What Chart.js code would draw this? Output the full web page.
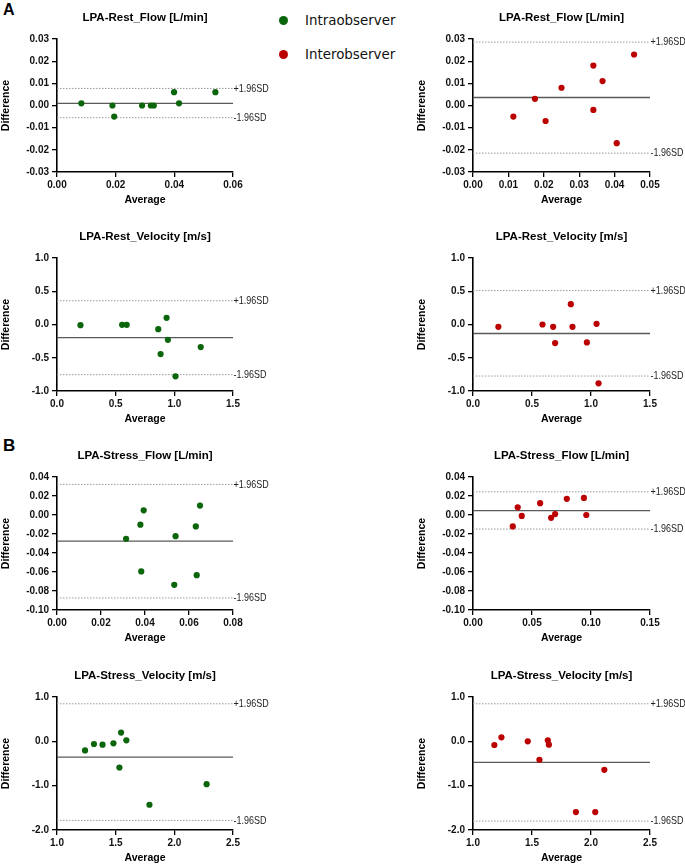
<!DOCTYPE html>
<html>
<head>
<meta charset="utf-8">
<script src="https://cdn.jsdelivr.net/npm/chart.js@4.4.1/dist/chart.umd.min.js"></script>
<style>
  html, body { margin: 0; padding: 0; background: #fff; }
  body { width: 685px; height: 864px; overflow: hidden; position: relative; }
  canvas { position: absolute; }
  .panel-letter { position: absolute; font-family: "Liberation Sans", Arial, sans-serif; font-weight: bold; line-height: 1; color: #000; }
  .leg { position: absolute; font-family: "DejaVu Sans", Verdana, sans-serif; font-size: 13.4px; line-height: 16px; color: #111; }
  .dot { position: absolute; width: 9px; height: 9px; border-radius: 50%; }
</style>
</head>
<body>
<div class="panel-letter" style="left:3px;top:2px;font-size:16px">A</div>
<div class="panel-letter" style="left:3px;top:437px;font-size:17px">B</div>

<div class="dot" style="left:279px;top:16px;background:#0b650b"></div>
<div class="leg" style="left:305px;top:13px">Intraobserver</div>
<div class="dot" style="left:279px;top:50px;background:#bb0000"></div>
<div class="leg" style="left:305px;top:47px">Interobserver</div>

<canvas id="c1" width="340" height="210" style="left:0;top:0"></canvas>
<canvas id="c2" width="345" height="210" style="left:340px;top:0"></canvas>
<canvas id="c3" width="340" height="210" style="left:0;top:219px"></canvas>
<canvas id="c4" width="345" height="210" style="left:340px;top:219px"></canvas>
<canvas id="c5" width="340" height="210" style="left:0;top:438px"></canvas>
<canvas id="c6" width="345" height="210" style="left:340px;top:438px"></canvas>
<canvas id="c7" width="340" height="210" style="left:0;top:658px"></canvas>
<canvas id="c8" width="345" height="210" style="left:340px;top:658px"></canvas>

<script>
// Bland-Altman data: average of the two measurements vs their difference
// limits = [bias, +1.96SD, -1.96SD]

const restFlowIntraAvg  = [0.0083, 0.0189, 0.0195, 0.029, 0.032, 0.033, 0.0399, 0.0416, 0.054];
const restFlowIntraDiff = [0.001, 0.000, -0.005, 0.000, 0.000, 0.000, 0.006, 0.001, 0.006];
const restFlowIntraLimits = [0.001, 0.0077, -0.0055];

const restFlowInterAvg  = [0.0114, 0.0175, 0.0205, 0.025, 0.034, 0.034, 0.0366, 0.0406, 0.0455];
const restFlowInterDiff = [-0.005, 0.003, -0.007, 0.008, 0.018, -0.002, 0.011, -0.017, 0.023];
const restFlowInterLimits = [0.0036, 0.0286, -0.0215];

const restVelIntraAvg  = [0.20, 0.555, 0.594, 0.863, 0.934, 0.945, 0.883, 1.01, 1.225];
const restVelIntraDiff = [-0.01, -0.005, -0.005, -0.07, 0.10, -0.23, -0.445, -0.78, -0.34];
const restVelIntraLimits = [-0.196, 0.357, -0.754];

const restVelInterAvg  = [0.215, 0.589, 0.679, 0.696, 0.829, 0.843, 0.965, 1.047, 1.064];
const restVelInterDiff = [-0.035, 0.0, -0.035, -0.28, 0.305, -0.035, -0.27, 0.01, -0.885];
const restVelInterLimits = [-0.135, 0.51, -0.775];

const stressFlowIntraAvg  = [0.0314, 0.0379, 0.0383, 0.0394, 0.0539, 0.0533, 0.0631, 0.0635, 0.065];
const stressFlowIntraDiff = [-0.0251, -0.0102, -0.0594, 0.0049, -0.0223, -0.0735, -0.012, -0.0633, 0.0099];
const stressFlowIntraLimits = [-0.0276, 0.0322, -0.0873];

const stressFlowInterAvg  = [0.0337, 0.0379, 0.0413, 0.0569, 0.0662, 0.0696, 0.0795, 0.094, 0.096];
const stressFlowInterDiff = [-0.012, 0.0081, -0.001, 0.0124, -0.003, 0.001, 0.017, 0.018, 0.0];
const stressFlowInterLimits = [0.0046, 0.0244, -0.0148];

const stressVelIntraAvg  = [1.239, 1.315, 1.388, 1.481, 1.546, 1.591, 1.532, 1.788, 2.275];
const stressVelIntraDiff = [-0.204, -0.06, -0.076, -0.045, 0.197, 0.023, -0.59, -1.43, -0.967];
const stressVelIntraLimits = [-0.355, 0.847, -1.784];

const stressVelInterAvg  = [1.181, 1.241, 1.464, 1.563, 1.634, 1.643, 1.872, 2.036, 2.113];
const stressVelInterDiff = [-0.083, 0.09, 0.0, -0.416, 0.023, -0.076, -1.595, -1.595, -0.643];
const stressVelInterLimits = [-0.476, 0.847, -1.80];

// axis ranges [min, max, step, decimals]
const flowRestX1 = [0, 0.06, 0.02, 2];
const flowRestX2 = [0, 0.05, 0.01, 2];
const flowRestY  = [-0.03, 0.03, 0.01, 2];
const velRestX   = [0, 1.5, 0.5, 1];
const velRestY   = [-1, 1, 0.5, 1];
const flowStressX1 = [0, 0.08, 0.02, 2];
const flowStressX2 = [0, 0.15, 0.05, 2];
const flowStressY  = [-0.10, 0.04, 0.02, 2];
const velStressX = [1, 2.5, 0.5, 1];
const velStressY = [-2, 1, 1, 1];

const GREEN = "#0b650b";
const RED = "#bb0000";
const SANS = '"Liberation Sans", Arial, sans-serif';

const panels = [
  { id: "c1", title: "LPA-Rest_Flow [L/min]", avg: restFlowIntraAvg, diff: restFlowIntraDiff, lim: restFlowIntraLimits, color: GREEN, x: flowRestX1, y: flowRestY, right: false },
  { id: "c2", title: "LPA-Rest_Flow [L/min]", avg: restFlowInterAvg, diff: restFlowInterDiff, lim: restFlowInterLimits, color: RED, x: flowRestX2, y: flowRestY, right: true },
  { id: "c3", title: "LPA-Rest_Velocity [m/s]", avg: restVelIntraAvg, diff: restVelIntraDiff, lim: restVelIntraLimits, color: GREEN, x: velRestX, y: velRestY, right: false },
  { id: "c4", title: "LPA-Rest_Velocity [m/s]", avg: restVelInterAvg, diff: restVelInterDiff, lim: restVelInterLimits, color: RED, x: velRestX, y: velRestY, right: true },
  { id: "c5", title: "LPA-Stress_Flow [L/min]", avg: stressFlowIntraAvg, diff: stressFlowIntraDiff, lim: stressFlowIntraLimits, color: GREEN, x: flowStressX1, y: flowStressY, right: false },
  { id: "c6", title: "LPA-Stress_Flow [L/min]", avg: stressFlowInterAvg, diff: stressFlowInterDiff, lim: stressFlowInterLimits, color: RED, x: flowStressX2, y: flowStressY, right: true },
  { id: "c7", title: "LPA-Stress_Velocity [m/s]", avg: stressVelIntraAvg, diff: stressVelIntraDiff, lim: stressVelIntraLimits, color: GREEN, x: velStressX, y: velStressY, right: false },
  { id: "c8", title: "LPA-Stress_Velocity [m/s]", avg: stressVelInterAvg, diff: stressVelInterDiff, lim: stressVelInterLimits, color: RED, x: velStressX, y: velStressY, right: true }
];

// narrow text: no condensed font installed, so squeeze it horizontally
function narrowText(ctx, text, x, y, sx) {
  ctx.save();
  ctx.translate(x, y);
  ctx.scale(sx, 1);
  ctx.fillText(text, 0, 0);
  ctx.restore();
}

// panel title above the plot and the +/-1.96SD captions at the right end of the limit lines
const annotate = {
  id: "annotate",
  afterDraw(chart, args, opts) {
    const { ctx, chartArea, scales } = chart;
    ctx.save();
    ctx.fillStyle = "#000";
    ctx.textBaseline = "middle";
    ctx.textAlign = "center";
    ctx.font = "bold 11.5px " + SANS;
    ctx.fillText(opts.title, (chartArea.left + chartArea.right) / 2, chartArea.top - 21);
    ctx.textAlign = "left";
    ctx.font = "11.5px " + SANS;
    ctx.fillStyle = "#222";
    narrowText(ctx, "+1.96SD", chartArea.right + 0.5, scales.y.getPixelForValue(opts.upper), 0.78);
    narrowText(ctx, "-1.96SD", chartArea.right + 0.5, scales.y.getPixelForValue(opts.lower), 0.78);
    ctx.restore();
  }
};

function fmt(dec) {
  return (v) => (Math.abs(v) < 1e-9 ? 0 : v).toFixed(dec);
}

function axis(r, fixSize) {
  return {
    type: "linear",
    min: r[0],
    max: r[1],
    ticks: {
      stepSize: r[2],
      color: "#111",
      font: { family: SANS, size: 10, weight: "bold" },
      padding: 2,
      callback: fmt(r[3]),
      maxRotation: 0,
      autoSkip: false
    },
    grid: { display: true, drawOnChartArea: false, drawTicks: true, tickLength: 5, color: "#000", lineWidth: 1.3 },
    border: { display: true, color: "#000", width: 1.6 },
    afterFit: fixSize
  };
}

panels.forEach(p => {
  const pts = p.avg.map((a, i) => ({ x: a, y: p.diff[i] }));
  const hline = (v) => [{ x: p.x[0], y: v }, { x: p.x[1], y: v }];
  const xAxis = axis(p.x, s => { s.height = 34; });
  xAxis.title = { display: true, text: "Average", color: "#000", font: { family: SANS, size: 10.5, weight: "bold" }, padding: 0 };
  const yAxis = axis(p.y, s => { s.width = 57; });
  yAxis.title = { display: true, text: "Difference", color: "#000", font: { family: SANS, size: 10.5, weight: "bold" }, padding: 0 };
  yAxis.ticks.padding = 3;

  new Chart(document.getElementById(p.id), {
    type: "scatter",
    data: {
      datasets: [
        { data: pts, backgroundColor: p.color, borderColor: p.color, pointRadius: 3.1, pointBorderWidth: 0, order: 0 },
        { data: hline(p.lim[0]), showLine: true, pointRadius: 0, borderColor: "#5a5a5a", borderWidth: 1.3, order: 1 },
        { data: hline(p.lim[1]), showLine: true, pointRadius: 0, borderColor: "#9a9a9a", borderWidth: 1, borderDash: [1.5, 1.5], order: 2 },
        { data: hline(p.lim[2]), showLine: true, pointRadius: 0, borderColor: "#9a9a9a", borderWidth: 1, borderDash: [1.5, 1.5], order: 2 }
      ]
    },
    options: {
      responsive: false,
      animation: false,
      devicePixelRatio: 1,
      layout: { padding: { top: 39, bottom: 4, left: p.right ? 76 : 0, right: p.right ? 35 : 107 } },
      scales: { x: xAxis, y: yAxis },
      plugins: {
        legend: { display: false },
        tooltip: { enabled: false },
        annotate: { title: p.title, upper: p.lim[1], lower: p.lim[2] }
      }
    },
    plugins: [annotate]
  });
});
</script>
</body>
</html>
